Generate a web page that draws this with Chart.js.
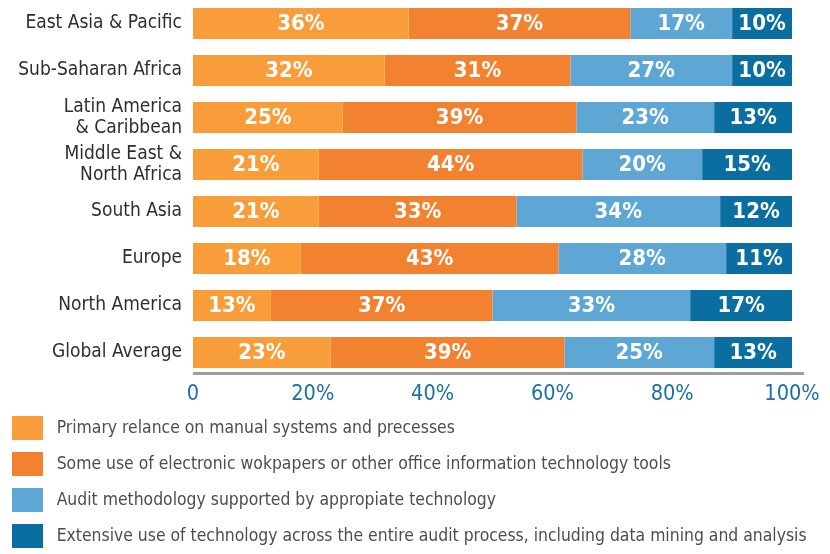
<!DOCTYPE html>
<html>
<head>
<meta charset="utf-8">
<script src="https://cdn.jsdelivr.net/npm/chart.js@4/dist/chart.umd.min.js"></script>
<style>
  html, body { margin: 0; padding: 0; background: #fff; }
  #wrap { width: 830px; height: 554px; }
</style>
</head>
<body>
<div id="wrap"><canvas id="chart" width="830" height="554"></canvas></div>
<script>
// Nhãn các khu vực
const regions = [
    "East Asia & Pacific",
    "Sub-Saharan Africa",
    ["Latin America", "& Caribbean"],
    ["Middle East &", "North Africa"],
    "South Asia",
    "Europe",
    "North America",
    "Global Average"
];

// Giá trị từng nhóm (%)
const manualSystems = [36, 32, 25, 21, 21, 18, 13, 23];
const someElectronic = [37, 31, 39, 44, 33, 43, 37, 39];
const auditMethodology = [17, 27, 23, 20, 34, 28, 33, 25];
const extensiveUse = [10, 10, 13, 15, 12, 11, 17, 13];

const seriesNames = [
    "Primary relance on manual systems and precesses",
    "Some use of electronic wokpapers or other office information technology tools",
    "Audit methodology supported by appropiate technology",
    "Extensive use of technology across the entire audit process, including data mining and analysis"
];

const xTicks = [0, 20, 40, 60, 80, 100];

const FONT = "'DejaVu Sans Condensed', 'Noto Sans', sans-serif";

// Vẽ nhãn phần trăm ở giữa mỗi đoạn
const segmentLabels = {
    id: "segmentLabels",
    afterDatasetsDraw(chart) {
        const ctx = chart.ctx;
        ctx.save();
        ctx.fillStyle = "#ffffff";
        ctx.font = "bold 22px " + FONT;
        ctx.textAlign = "center";
        ctx.textBaseline = "middle";
        chart.data.datasets.forEach(function(ds, i) {
            let meta = chart.getDatasetMeta(i);
            meta.data.forEach(function(bar, j) {
                let p = bar.getProps(["x", "y", "base"], true);
                ctx.fillText(ds.data[j] + "%", (p.x + p.base) / 2, p.y + 1);
            });
        });
        ctx.restore();
    }
};

// Đường trục hoành màu xám, kéo dài quá 100% một chút
const axisLine = {
    id: "axisLine",
    afterDraw(chart) {
        const xs = chart.scales.x;
        const ctx = chart.ctx;
        ctx.save();
        ctx.strokeStyle = "#9d9d9f";
        ctx.lineWidth = 3;
        ctx.beginPath();
        ctx.moveTo(xs.left, xs.top - 2.5);
        ctx.lineTo(xs.getPixelForValue(102), xs.top - 2.5);
        ctx.stroke();
        ctx.restore();
    }
};

const data = {
    labels: regions,
    datasets: [
        { label: seriesNames[0], data: manualSystems, backgroundColor: "#F99D3A" },
        { label: seriesNames[1], data: someElectronic, backgroundColor: "#F28130" },
        { label: seriesNames[2], data: auditMethodology, backgroundColor: "#5EA7D5" },
        { label: seriesNames[3], data: extensiveUse, backgroundColor: "#0A6FA0" }
    ]
};

const config = {
    type: "bar",
    data: data,
    options: {
        indexAxis: "y",
        responsive: false,
        animation: false,
        layout: { padding: { left: 0, right: 0, top: 0, bottom: -4 } },
        datasets: {
            bar: { barPercentage: 1, categoryPercentage: 0.66, borderWidth: 0 }
        },
        scales: {
            x: {
                stacked: true,
                min: 0,
                max: 100,
                afterBuildTicks(scale) {
                    scale.ticks = xTicks.map(v => ({ value: v }));
                },
                afterFit(scale) {
                    scale.height = 28;
                    scale.paddingRight = 38;
                    scale.paddingLeft = 0;
                },
                grid: { display: false, drawTicks: false },
                border: { display: false },
                ticks: {
                    color: "#1C70A2",
                    font: { family: FONT, size: 21.5 },
                    padding: 6,
                    maxRotation: 0,
                    callback: v => v === 0 ? "0" : v + "%"
                }
            },
            y: {
                stacked: true,
                afterFit(scale) {
                    scale.width = 193;
                    scale.paddingTop = 0;
                    scale.paddingBottom = 0;
                },
                grid: { display: false, drawTicks: false },
                border: { display: false },
                ticks: {
                    autoSkip: false,
                    color: "#2e2e2e",
                    font: { family: FONT, size: 19, lineHeight: 1.15 },
                    padding: 11
                }
            }
        },
        plugins: {
            tooltip: { enabled: false },
            legend: {
                position: "bottom",
                align: "start",
                labels: {
                    boxWidth: 31,
                    boxHeight: 24,
                    padding: 12,
                    color: "#4d4d4d",
                    font: { family: FONT, size: 17.4 },
                    generateLabels(chart) {
                        return Chart.defaults.plugins.legend.labels.generateLabels(chart).map(function(item) {
                            item.text = " " + item.text;
                            item.lineWidth = 0;
                            return item;
                        });
                    }
                }
            }
        }
    },
    plugins: [segmentLabels, axisLine]
};

let context = document.getElementById("chart").getContext("2d");
new Chart(context, config);
</script>
</body>
</html>
